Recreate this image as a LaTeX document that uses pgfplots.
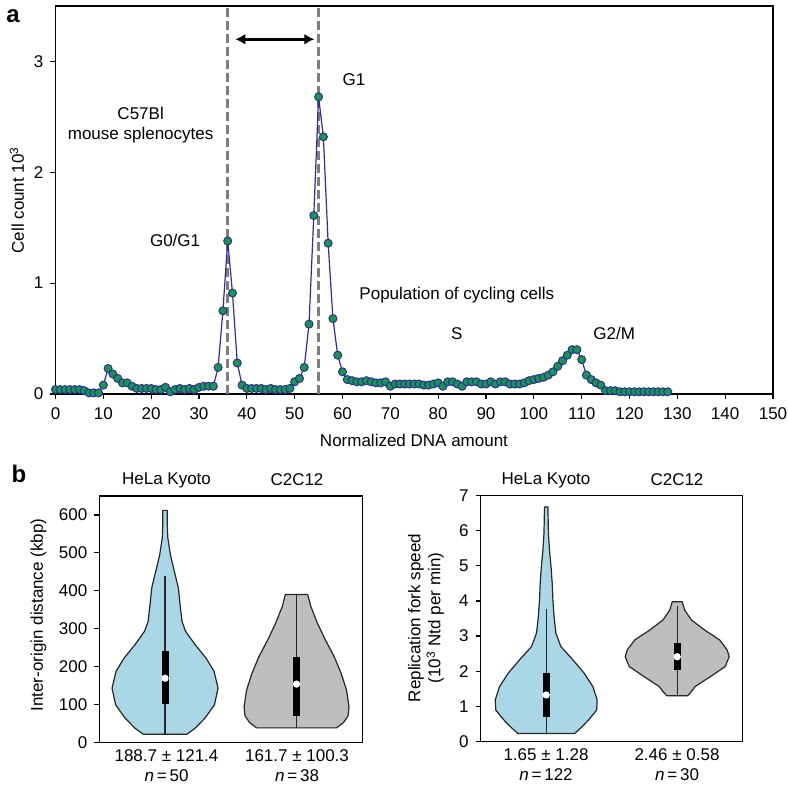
\documentclass[border=0pt]{standalone}
\usepackage{fontspec}
\setmainfont{Liberation Sans}
\usepackage{pgfplots}
\pgfplotsset{compat=1.18}
\usetikzlibrary{arrows.meta}

\definecolor{ptgreen}{RGB}{22,150,80}
\definecolor{ptnavy}{RGB}{45,45,155}
\definecolor{vblue}{RGB}{170,215,230}
\definecolor{vgrey}{RGB}{190,190,190}
\definecolor{dashgrey}{RGB}{125,125,125}

\newcommand{\fs}{\fontsize{8.5}{10}\selectfont}

\pgfplotsset{
  base/.style={
    scale only axis,
    axis line style={black, line width=0.7pt},
    every tick/.style={black, line width=0.6pt},
    tick align=outside,
    major tick length=2.5pt,
    ticklabel style={font=\fs},
    /pgf/number format/assume math mode=true,
    clip=false,
    anchor=south west,
  },
  violin/.style={draw=black!85, line width=0.6pt, line join=round},
  whisk/.style={black!85, line width=0.65pt},
  boxp/.style={black, line width=3.5pt},
  med/.style={only marks, mark=*, mark size=1.6pt, mark options={fill=white, draw=white}},
}

\begin{document}
\begin{tikzpicture}
\path[use as bounding box] (0,0) rectangle (394pt,393pt);

% ---------------- panel a ----------------
\begin{axis}[base, at={(27.75pt,196pt)}, width=358.75pt, height=194pt,
  xmin=0, xmax=150, ymin=0, ymax=3.5,
  xtick={0,10,...,150}, ytick={0,1,2,3},
  xtick pos=bottom, ytick pos=left,
  xticklabel style={yshift=-1pt}]
\addplot[dashgrey, line width=1.5pt, dash pattern=on 4.5pt off 2pt] coordinates {(36,0) (36,3.5)};
\addplot[dashgrey, line width=1.5pt, dash pattern=on 4.5pt off 2pt] coordinates {(55,0) (55,3.5)};
\addplot[ptnavy, line width=0.6pt, mark=*, mark size=2pt,
  mark options={fill=ptgreen, draw=ptnavy, line width=0.5pt}] coordinates {
(0,0.04)(1,0.04)(2,0.04)(3,0.04)(4,0.04)(5,0.04)(6,0.03)(7,0.01)(8,0.01)(9,0.01)
(10,0.08)(11,0.23)(12,0.18)(13,0.14)(14,0.10)(15,0.10)(16,0.07)(17,0.05)(18,0.05)(19,0.05)
(20,0.05)(21,0.04)(22,0.04)(23,0.06)(24,0.02)(25,0.04)(26,0.05)(27,0.04)(28,0.05)(29,0.04)
(30,0.06)(31,0.07)(32,0.07)(33,0.07)(34,0.24)(35,0.75)(36,1.38)(37,0.91)(38,0.28)(39,0.08)
(40,0.05)(41,0.05)(42,0.05)(43,0.05)(44,0.04)(45,0.05)(46,0.04)(47,0.04)(48,0.04)(49,0.05)
(50,0.11)(51,0.14)(52,0.24)(53,0.63)(54,1.61)(55,2.68)(56,2.32)(57,1.36)(58,0.68)(59,0.35)
(60,0.20)(61,0.13)(62,0.12)(63,0.11)(64,0.11)(65,0.12)(66,0.11)(67,0.10)(68,0.10)(69,0.11)
(70,0.07)(71,0.09)(72,0.09)(73,0.09)(74,0.09)(75,0.09)(76,0.09)(77,0.08)(78,0.08)(79,0.09)
(80,0.10)(81,0.07)(82,0.11)(83,0.11)(84,0.09)(85,0.07)(86,0.11)(87,0.11)(88,0.11)(89,0.09)
(90,0.09)(91,0.11)(92,0.09)(93,0.11)(94,0.11)(95,0.09)(96,0.09)(97,0.09)(98,0.10)(99,0.12)
(100,0.13)(101,0.14)(102,0.15)(103,0.17)(104,0.20)(105,0.25)(106,0.30)(107,0.35)(108,0.40)(109,0.40)
(110,0.31)(111,0.17)(112,0.13)(113,0.10)(114,0.08)(115,0.03)(116,0.03)(117,0.03)(118,0.02)(119,0.02)
(120,0.02)(121,0.02)(122,0.02)(123,0.02)(124,0.02)(125,0.02)(126,0.02)(127,0.02)(128,0.02)
};
\draw[{Latex[length=5pt,width=5.5pt]}-{Latex[length=5pt,width=5.5pt]}, line width=1.3pt, black]
  (axis cs:37.6,3.2) -- (axis cs:54.1,3.2);
\node[font=\fs] at (axis cs:62.4,2.836) {G1};
\node[font=\fs, align=center] at (axis cs:17.8,2.43) {C57Bl\\mouse splenocytes};
\node[font=\fs] at (axis cs:25.0,1.385) {G0/G1};
\node[font=\fs] at (axis cs:83.9,0.894) {Population of cycling cells};
\node[font=\fs] at (axis cs:83.9,0.548) {S};
\node[font=\fs] at (axis cs:116.8,0.548) {G2/M};
\end{axis}

% ---------------- panel b left ----------------
\begin{axis}[base, at={(49.65pt,21.85pt)}, width=131.5pt, height=123.15pt,
  xmin=0.5, xmax=2.5, ymin=0, ymax=650,
  xtick=\empty, ytick={0,100,...,600}, ytick pos=left]
\addplot[violin, fill=vblue] coordinates {
(0.835,21)(1.165,21)(1.228,37)(1.304,64)(1.376,99)(1.403,143)(1.373,187)(1.312,222)(1.228,258)
(1.156,293)(1.129,319)(1.114,364)(1.101,408)(1.070,452)(1.040,496)(1.021,540)(1.017,575)(1.017,612)
(0.983,612)(0.983,575)(0.979,540)(0.960,496)(0.930,452)(0.899,408)(0.886,364)(0.871,319)(0.844,293)
(0.772,258)(0.688,222)(0.627,187)(0.597,143)(0.624,99)(0.696,64)(0.772,37)(0.835,21)(1.165,21)};
\addplot[whisk] coordinates {(1,21) (1,440)};
\addplot[boxp] coordinates {(1,101) (1,240)};
\addplot[med] coordinates {(1,169)};
\addplot[violin, fill=vgrey] coordinates {
(1.696,38)(2.304,38)(2.357,52)(2.392,70)(2.399,94)(2.380,138)(2.338,183)(2.285,227)(2.218,271)
(2.158,315)(2.108,359)(2.085,390)(1.915,390)(1.892,359)(1.842,315)(1.782,271)(1.715,227)
(1.662,183)(1.620,138)(1.601,94)(1.608,70)(1.643,52)(1.696,38)(2.304,38)};
\addplot[whisk] coordinates {(2,38) (2,390)};
\addplot[boxp] coordinates {(2,70) (2,224)};
\addplot[med] coordinates {(2,153.5)};
\end{axis}

% ---------------- panel b right ----------------
\begin{axis}[base, at={(240.35pt,22.35pt)}, width=131pt, height=122.8pt,
  xmin=0.5, xmax=2.5, ymin=0, ymax=7,
  xtick=\empty, ytick={0,1,...,7}, ytick pos=left]
\addplot[violin, fill=vblue] coordinates {
(0.784,0.22)(1.216,0.22)(1.275,0.42)(1.324,0.61)(1.385,0.89)(1.389,1.18)(1.356,1.56)(1.290,1.94)
(1.204,2.32)(1.112,2.70)(1.074,3.08)(1.060,3.55)(1.051,4.03)(1.046,4.50)(1.037,4.97)(1.025,5.45)
(1.017,5.93)(1.013,6.68)
(0.987,6.68)(0.983,5.93)(0.975,5.45)(0.963,4.97)(0.954,4.50)(0.949,4.03)(0.940,3.55)(0.926,3.08)
(0.888,2.70)(0.796,2.32)(0.710,1.94)(0.644,1.56)(0.611,1.18)(0.615,0.89)(0.676,0.61)(0.725,0.42)
(0.784,0.22)(1.216,0.22)};
\addplot[whisk] coordinates {(1,0.22) (1,3.76)};
\addplot[boxp] coordinates {(1,0.70) (1,1.94)};
\addplot[med] coordinates {(1,1.32)};
\addplot[violin, fill=vgrey] coordinates {
(1.920,1.30)(2.080,1.30)(2.107,1.41)(2.137,1.56)(2.252,1.84)(2.366,2.13)(2.397,2.41)(2.382,2.60)
(2.324,2.89)(2.210,3.17)(2.108,3.46)(2.057,3.74)(2.038,3.98)
(1.962,3.98)(1.943,3.74)(1.892,3.46)(1.790,3.17)(1.676,2.89)(1.618,2.60)(1.603,2.41)(1.634,2.13)
(1.748,1.84)(1.863,1.56)(1.893,1.41)(1.920,1.30)(2.080,1.30)};
\addplot[whisk] coordinates {(2,1.30) (2,3.87)};
\addplot[boxp] coordinates {(2,2.03) (2,2.79)};
\addplot[med] coordinates {(2,2.41)};
\end{axis}

% ---------------- frames (drawn explicitly) ----------------
\draw[black, line width=0.7pt] (49.65pt,21.85pt) rectangle (181.15pt,145pt);
\draw[black, line width=0.7pt] (240.35pt,22.35pt) rectangle (371.35pt,145.15pt);

% ---------------- free text ----------------
\node[font=\bfseries\fontsize{12}{14}\selectfont] at (6.5pt,385pt) {a};
\node[font=\bfseries\fontsize{12}{14}\selectfont] at (9.5pt,156pt) {b};
\node[font=\fs, rotate=90] at (8.5pt,293pt) {Cell count 10\textsuperscript{3}};
\node[font=\fs] at (207pt,173pt) {Normalized DNA amount};
\node[font=\fs, rotate=90] at (19.25pt,85.5pt) {Inter-origin distance (kbp)};
\node[font=\fs, rotate=90, align=center] at (213pt,84pt) {Replication fork speed\\(10\textsuperscript{3} Ntd per min)};
\node[font=\fs] at (83.25pt,153pt) {HeLa Kyoto};
\node[font=\fs] at (148.5pt,153pt) {C2C12};
\node[font=\fs] at (273pt,153pt) {HeLa Kyoto};
\node[font=\fs] at (338.5pt,153pt) {C2C12};
\node[font=\fs, align=center] at (83.25pt,10pt) {188.7 ± 121.4\\\textit{n}\,=\,50};
\node[font=\fs, align=center] at (148.5pt,10pt) {161.7 ± 100.3\\\textit{n}\,=\,38};
\node[font=\fs, align=center] at (273pt,10.5pt) {1.65 ± 1.28\\\textit{n}\,=\,122};
\node[font=\fs, align=center] at (338.5pt,10.5pt) {2.46 ± 0.58\\\textit{n}\,=\,30};
\end{tikzpicture}
\end{document}
